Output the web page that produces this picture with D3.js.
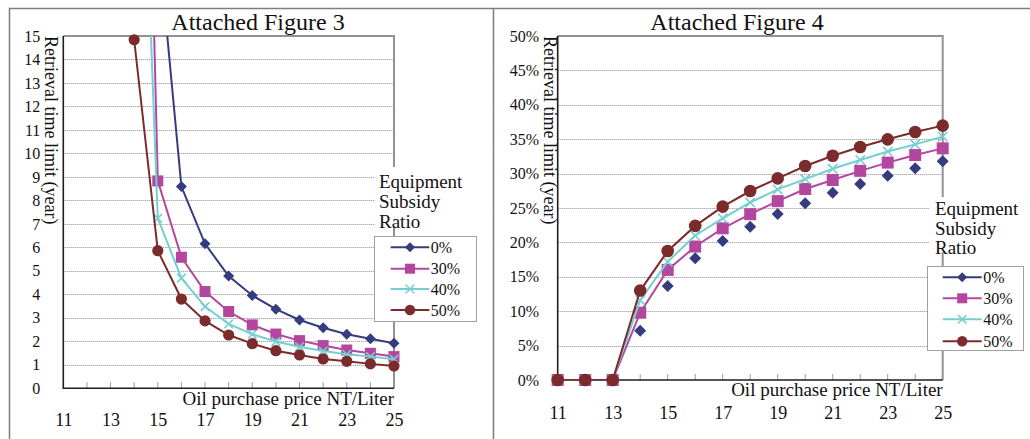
<!DOCTYPE html>
<html>
<head>
<meta charset="utf-8">
<script src="https://cdn.jsdelivr.net/npm/d3@7"></script>
<style>
  body { margin: 0; background: #fff; }
  svg { display: block; }
  svg text { font-family: "Liberation Serif", "Times New Roman", serif; }
</style>
</head>
<body>
<svg id="chart" width="1030" height="439"></svg>
<script>
// ---- data ----
const prices = [11, 12, 13, 14, 15, 16, 17, 18, 19, 20, 21, 22, 23, 24, 25];
const priceLabels = [11, 13, 15, 17, 19, 21, 23, 25];
const ratioLabels = ["0%", "30%", "40%", "50%"];

// Figure 3: payback period (years); null = no payback in range
const payback0  = [null, null, null, null, 19.3, 8.59, 6.15, 4.78, 3.95, 3.37, 2.91, 2.58, 2.30, 2.11, 1.92];
const payback30 = [null, null, null, 49.5, 8.83, 5.58, 4.12, 3.27, 2.70, 2.31, 2.03, 1.82, 1.63, 1.49, 1.35];
const payback40 = [null, null, null, 34.0, 7.24, 4.69, 3.48, 2.74, 2.30, 1.99, 1.77, 1.59, 1.45, 1.35, 1.24];
const payback50 = [null, null, null, 14.84, 5.86, 3.80, 2.87, 2.27, 1.90, 1.60, 1.42, 1.25, 1.15, 1.04, 0.95];
const yearTicks = [0, 1, 2, 3, 4, 5, 6, 7, 8, 9, 10, 11, 12, 13, 14, 15];

// Figure 4: rate of return (%)
const return0  = [0, 0, 0, 7.17, 13.66, 17.69, 20.2, 22.28, 24.13, 25.68, 27.2, 28.5, 29.7, 30.77, 31.78];
const return30 = [0, 0, 0, 9.78, 16.0, 19.4, 22.05, 24.1, 26.0, 27.76, 29.07, 30.4, 31.6, 32.7, 33.67];
const return40 = [0, 0, 0, 11.6, 17.2, 21.0, 23.5, 25.8, 27.7, 29.2, 30.7, 31.98, 33.2, 34.25, 35.37];
const return50 = [0, 0, 0, 13.0, 18.75, 22.4, 25.2, 27.47, 29.3, 31.1, 32.6, 33.87, 34.98, 36.05, 36.97];
const pctTicks = [0, 5, 10, 15, 20, 25, 30, 35, 40, 45, 50];

// ---- styles ----
const FONT = '"Liberation Serif", "Times New Roman", serif';
const colors = ["#353b7f", "#b3479f", "#74cfd0", "#7c2b2c"];
const markers = ["diamond", "square", "cross", "circle"];

const svg = d3.select("#chart");

// outer frame of the two panels
svg.append("path")
  .attr("d", "M9.5,439 V8.5 H1030 M493.5,8.5 V439")
  .attr("fill", "none").attr("stroke", "#7d7d7d").attr("stroke-width", 1.5);

function label(g, x, y, size, txt, anchor) {
  return g.append("text").attr("x", x).attr("y", y)
    .attr("font-family", FONT).attr("font-size", size)
    .attr("text-anchor", anchor || "start").attr("fill", "#111").text(txt);
}

function drawMarker(g, type, x, y, color, s) {
  if (type === "diamond") {
    g.append("path").attr("d", `M${x},${y - s}L${x + s},${y}L${x},${y + s}L${x - s},${y}Z`).attr("fill", color);
  } else if (type === "square") {
    g.append("rect").attr("x", x - s).attr("y", y - s).attr("width", 2 * s).attr("height", 2 * s).attr("fill", color);
  } else if (type === "cross") {
    const c = s * 0.85;
    g.append("path").attr("d", `M${x - c},${y - c}L${x + c},${y + c}M${x - c},${y + c}L${x + c},${y - c}`)
      .attr("stroke", color).attr("stroke-width", 1.6).attr("fill", "none");
  } else {
    g.append("circle").attr("cx", x).attr("cy", y).attr("r", s).attr("fill", color);
  }
}

function drawPanel(cfg) {
  const g = svg.append("g");
  const x = d3.scaleLinear().domain([11, 25]).range([cfg.x0, cfg.x1]);
  const y = d3.scaleLinear().domain(cfg.yDomain).range([cfg.yBot, cfg.yTop]);

  // title
  label(g, cfg.titleX, 30, 24, cfg.title, "middle");

  // horizontal grid
  const inner = cfg.yTicks.slice(1, -1);
  g.append("g").selectAll("line").data(inner).join("line")
    .attr("x1", cfg.x0).attr("x2", cfg.x1)
    .attr("y1", d => Math.round(y(d)) + 0.5).attr("y2", d => Math.round(y(d)) + 0.5)
    .attr("stroke", "#8a8a8a").attr("stroke-width", 1).attr("stroke-dasharray", "1,1");

  // top and right frame
  g.append("path")
    .attr("d", `M${cfg.x0},${cfg.yTop} H${cfg.x1} V${cfg.yBot}`)
    .attr("fill", "none").attr("stroke", "#929292").attr("stroke-width", 2);

  // inward tick marks on the price axis
  g.append("g").selectAll("line").data(prices.slice(1, -1)).join("line")
    .attr("x1", d => x(d)).attr("x2", d => x(d))
    .attr("y1", cfg.yBot).attr("y2", cfg.yBot - 6)
    .attr("stroke", "#9a9a9a").attr("stroke-width", 1);

  // axis lines
  g.append("path")
    .attr("d", `M${cfg.x0},${cfg.yTop} V${cfg.yBot} H${cfg.x1}`)
    .attr("fill", "none").attr("stroke", "#1e1e1e").attr("stroke-width", 1.6);

  // y tick labels
  const ya = g.append("g").attr("transform", `translate(${cfg.x0},0)`)
    .call(d3.axisLeft(y).tickValues(cfg.yTicks).tickFormat(cfg.yFmt).tickSize(0).tickPadding(cfg.yPad));
  ya.attr("font-family", FONT).attr("font-size", 16);
  ya.select(".domain").remove();
  ya.selectAll("text").attr("font-family", FONT).attr("font-size", 16).attr("fill", "#111");

  // x tick labels
  const xa = g.append("g").attr("transform", `translate(0,${cfg.yBot})`)
    .call(d3.axisBottom(x).tickValues(priceLabels).tickFormat(d3.format("d")).tickSize(0).tickPadding(cfg.xPad));
  xa.attr("font-family", FONT).attr("font-size", 18);
  xa.select(".domain").remove();
  xa.selectAll("text").attr("font-family", FONT).attr("font-size", 18).attr("fill", "#111");

  // axis titles
  label(g, cfg.x1, cfg.xTitleY, 19, "Oil purchase price NT/Liter", "end");
  label(g, 0, 0, 18, "Retrieval time limit (year)")
    .attr("transform", `translate(${cfg.yTitleX},${cfg.yTop}) rotate(90)`);

  // series
  const clipId = "clip" + cfg.id;
  svg.append("defs").append("clipPath").attr("id", clipId)
    .append("rect").attr("x", cfg.x0).attr("y", cfg.yTop)
    .attr("width", cfg.x1 - cfg.x0).attr("height", cfg.yBot - cfg.yTop);

  const line = d3.line()
    .defined(d => d[1] !== null)
    .x(d => x(d[0])).y(d => y(d[1]));

  cfg.series.forEach((vals, i) => {
    const pts = prices.map((p, k) => [p, vals[k]]);
    const sg = g.append("g");
    if (cfg.showLine[i]) {
      sg.append("path").attr("d", line(pts)).attr("clip-path", `url(#${clipId})`)
        .attr("fill", "none").attr("stroke", colors[i]).attr("stroke-width", 2);
    }
    pts.filter(d => d[1] !== null && d[1] <= cfg.yDomain[1] + 0.3)
      .forEach(d => drawMarker(sg, markers[i], x(d[0]), y(d[1]), colors[i], cfg.mSize[i]));
  });

  // legend heading on white background
  g.append("rect").attr("x", cfg.headBox[0]).attr("y", cfg.headBox[1])
    .attr("width", cfg.headBox[2]).attr("height", cfg.headBox[3]).attr("fill", "#fff");
  ["Equipment", "Subsidy", "Ratio"].forEach((t, k) => {
    label(g, cfg.headX, cfg.headY[k] + 6.5, 19, t);
  });

  // legend box
  const lb = cfg.legBox;
  g.append("rect").attr("x", lb[0] + 0.5).attr("y", lb[1] + 0.5).attr("width", lb[2]).attr("height", lb[3])
    .attr("fill", "#fff").attr("stroke", "#a0a0a0").attr("stroke-width", 1);
  ratioLabels.forEach((lab, i) => {
    const ly = cfg.legY[i];
    g.append("line").attr("x1", cfg.legLine[0]).attr("x2", cfg.legLine[1])
      .attr("y1", ly).attr("y2", ly).attr("stroke", colors[i]).attr("stroke-width", 2);
    drawMarker(g, markers[i], (cfg.legLine[0] + cfg.legLine[1]) / 2, ly, colors[i], [5, 5, 5, 5.2][i]);
    label(g, cfg.legLine[1] + 1.5, ly + 5.5, 16, lab);
  });
}

// Figure 3: payback period
drawPanel({
  id: 3, title: "Attached Figure 3", titleX: 258,
  x0: 63.3, x1: 394, yTop: 36, yBot: 388.3,
  yDomain: [0, 15], yTicks: yearTicks, yFmt: d3.format("d"),
  yPad: 23, xPad: 25, xTitleY: 405, yTitleX: 45,
  series: [payback0, payback30, payback40, payback50],
  showLine: [true, true, true, true],
  mSize: [5.5, 5.5, 5, 5.6],
  headBox: [375, 167, 98, 60], headX: 379, headY: [181.7, 201.7, 221],
  legBox: [374, 236, 102, 85], legY: [247.3, 268.7, 289, 310], legLine: [390.7, 429.3]
});

// Figure 4: rate of return
drawPanel({
  id: 4, title: "Attached Figure 4", titleX: 737,
  x0: 557.7, x1: 942.7, yTop: 36, yBot: 380,
  yDomain: [0, 50], yTicks: pctTicks, yFmt: d => d + "%",
  yPad: 18.5, xPad: 26, xTitleY: 396, yTitleX: 543.5,
  series: [return0, return30, return40, return50],
  showLine: [false, true, true, true],
  mSize: [6, 6, 5.5, 6.3],
  headBox: [929, 197, 101, 55], headX: 935, headY: [208.3, 228.3, 247.7],
  legBox: [927, 266, 96, 84], legY: [277.3, 298.3, 319.3, 341.3], legLine: [942.7, 981.7]
});
</script>
</body>
</html>
